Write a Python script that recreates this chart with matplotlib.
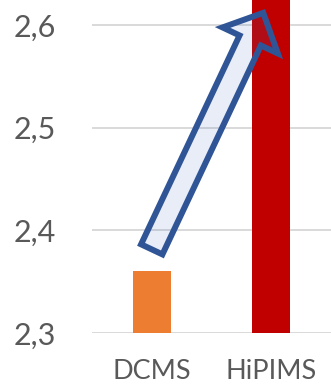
import numpy as np
import matplotlib.pyplot as plt
from matplotlib.patches import FancyArrowPatch

plt.rcParams['font.family'] = ['Lato', 'DejaVu Sans']

# deposition method vs. value
methods = ['DCMS', 'HiPIMS']
values = [2.36, 2.66]
bar_colors = ['#ED7D31', '#C00000']
yticks = [2.3, 2.4, 2.5, 2.6]
ytick_labels = ['2,3', '2,4', '2,5', '2,6']

fig = plt.figure(figsize=(3.31, 3.86), dpi=100)
ax = fig.add_axes([92 / 331, 53 / 386, 1 - 92 / 331, 1 - 53 / 386])

x = np.arange(len(methods))
ax.bar(x, values, width=0.32, color=bar_colors, zorder=2)

ax.set_xlim(-0.5, 1.5)
ax.set_ylim(2.3, 2.6245)
ax.set_yticks(yticks)
ax.set_yticklabels(ytick_labels)
ax.set_xticks(x)
ax.set_xticklabels(methods)
ax.tick_params(axis='y', length=0, pad=26, labelsize=22, labelcolor='#595959')
ax.tick_params(axis='x', length=0, pad=19, labelsize=19.5, labelcolor='#595959')
ax.grid(axis='y', color='#D9D9D9', linewidth=1.4, zorder=0)
ax.set_axisbelow(True)
for s in ax.spines.values():
    s.set_visible(False)

# block arrow from DCMS up to HiPIMS
arrow = FancyArrowPatch((0.0, 2.3815), (0.933, 2.612),
                        arrowstyle='simple,head_length=22,head_width=44,tail_width=17',
                        mutation_scale=1, shrinkA=0, shrinkB=0,
                        facecolor=(0x44 / 255, 0x72 / 255, 0xC4 / 255, 0.12),
                        edgecolor='#2F5597', linewidth=4.3, joinstyle='miter',
                        zorder=3, clip_on=False)
ax.add_patch(arrow)

fig.savefig('out.png', dpi=100)
